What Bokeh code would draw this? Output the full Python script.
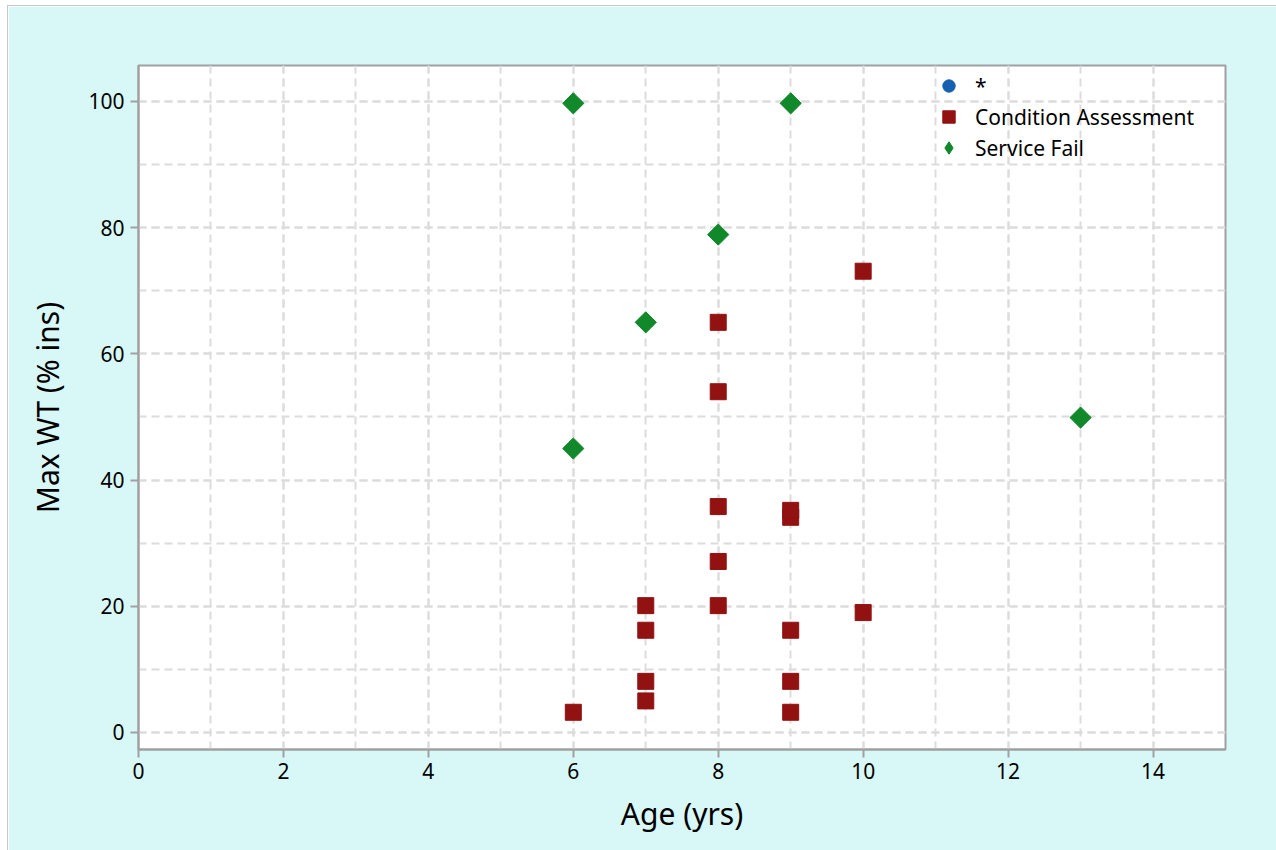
import math
from bokeh.plotting import figure
from bokeh.models import Range1d, SingleIntervalTicker, Legend, LegendItem
from bokeh.embed import file_html
from bokeh.resources import INLINE

# Data
star_age = [float("nan")]   # "*" series: legend entry only, no visible points
star_wt = [float("nan")]
ca_age = [6, 7, 7, 7, 7, 8, 8, 8, 8, 8, 9, 9, 9, 9, 9, 10, 10]
ca_wt = [3.2, 5, 8.1, 16.2, 20.1, 20.1, 27.1, 35.8, 54.0, 65.0, 3.2, 8.1, 16.2, 34.1, 35.2, 19.0, 73.1]
sf_age = [6, 9, 8, 7, 6, 13]
sf_wt = [99.7, 99.7, 78.9, 65.0, 45.0, 49.9]

FONT = "Noto Sans"
BG = "#d8f7f7"
GREEN = "#11882a"

p = figure(width=1269, height=845, output_backend="svg", toolbar_location=None,
           x_range=Range1d(0, 15), y_range=Range1d(-2.7, 105.7),
           min_border_left=130, min_border_right=52, min_border_top=59, min_border_bottom=102,
           background_fill_color="white", border_fill_color=BG,
           margin=(5, 0, 0, 7),
           styles={"border-left": "1px solid #c8c8c8", "border-top": "1px solid #c8c8c8"})

p.outline_line_color = "#a0a0a0"
p.outline_line_width = 2

p.xaxis.ticker = SingleIntervalTicker(interval=2, num_minor_ticks=2)
p.yaxis.ticker = SingleIntervalTicker(interval=20, num_minor_ticks=2)

for ax in (p.xaxis, p.yaxis):
    ax.axis_line_color = "#a0a0a0"
    ax.axis_line_width = 2
    ax.major_tick_line_color = "#a0a0a0"
    ax.major_tick_line_width = 2
    ax.major_tick_out = 8
    ax.major_tick_in = 0
    ax.minor_tick_line_color = None
    ax.major_label_text_font = FONT
    ax.major_label_text_font_size = "21px"
    ax.major_label_text_color = "black"
    ax.axis_label_text_font = FONT
    ax.axis_label_text_font_size = "30px"
    ax.axis_label_text_font_style = "normal"
    ax.axis_label_text_color = "black"

p.xaxis.axis_label = "Age (yrs)"
p.yaxis.axis_label = "Max WT (% ins)"
p.xaxis.major_label_standoff = 5
p.yaxis.major_label_standoff = 6
p.xaxis.axis_label_standoff = 11
p.yaxis.axis_label_standoff = 17

for g in (p.xgrid, p.ygrid):
    g.grid_line_color = "#dcdcdc"
    g.grid_line_width = 2
    g.grid_line_dash = "8 5"
    g.minor_grid_line_color = "#dcdcdc"
    g.minor_grid_line_width = 2
    g.minor_grid_line_dash = "8 5"

r_star = p.scatter(star_age, star_wt, marker="circle", size=16, fill_color="#1560b0", line_color="#1560b0")
r_ca = p.scatter(ca_age, ca_wt, marker="square", size=16, fill_color="#921212", line_color="#921212")
r_sf = p.scatter(sf_age, sf_wt, marker="square", size=15, angle=math.pi / 4,
                 fill_color=GREEN, line_color=GREEN)
# legend proxy for the diamond symbol (the legend ignores marker rotation)
r_sf_key = p.scatter(star_age, star_wt, marker="diamond", size=16, fill_color=GREEN, line_color=GREEN)

legend = Legend(items=[LegendItem(label="*", renderers=[r_star]),
                       LegendItem(label="Condition Assessment", renderers=[r_ca]),
                       LegendItem(label="Service Fail", renderers=[r_sf_key])],
                location=(795, 586))
legend.background_fill_alpha = 0
legend.border_line_color = None
legend.label_text_font = FONT
legend.label_text_font_size = "21px"
legend.label_text_color = "black"
legend.label_height = 30
legend.glyph_height = 31
legend.glyph_width = 31
legend.spacing = 0
legend.label_standoff = 11
legend.padding = 6
legend.margin = 0
p.add_layout(legend)

open("out.html", "w").write(file_html(p, INLINE))
